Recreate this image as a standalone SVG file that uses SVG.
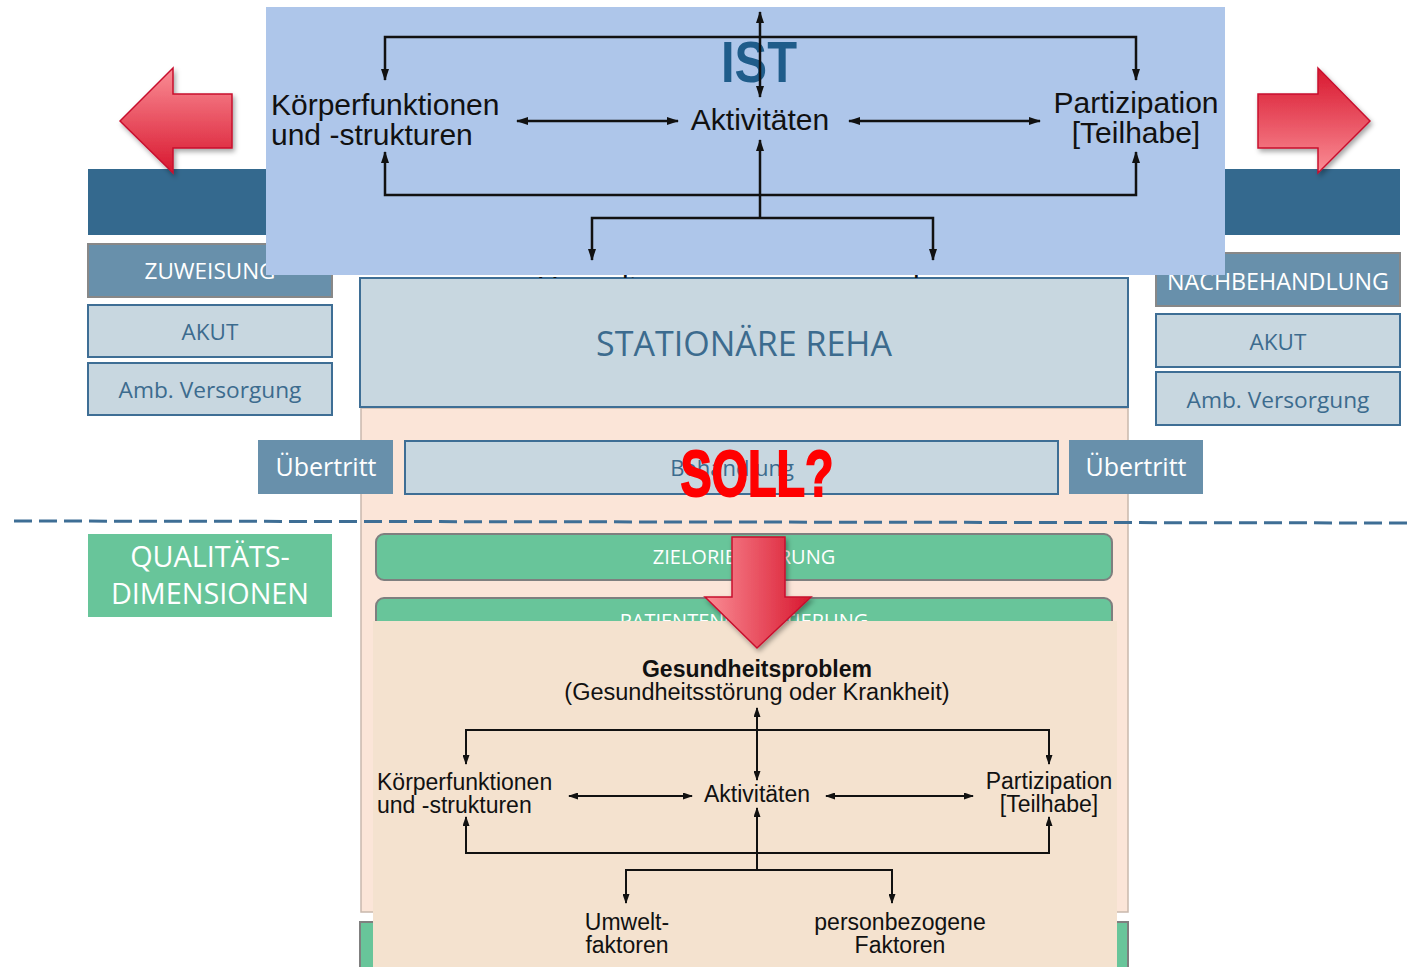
<svg xmlns="http://www.w3.org/2000/svg" width="1407" height="967" viewBox="0 0 1407 967">
<style>
.box{fill:#C8D7E0;stroke:#3E6E95;stroke-width:2}
.dbox{fill:#6890AB;stroke:#888;stroke-width:2}
.bt{font-family:"Open Sans","Noto Sans",sans-serif;fill:#3C6B8E;text-anchor:middle}
.wt{font-family:"Open Sans","Noto Sans",sans-serif;fill:#fff;text-anchor:middle}
.icf{font-family:"Liberation Sans",Arial,sans-serif;fill:#111}
.ln{fill:none;stroke:#111;stroke-width:2.5}
.ln2{fill:none;stroke:#111;stroke-width:2}
.g{fill:#68C59A;stroke:#7F7F7F;stroke-width:2}
.arr{stroke:#C8102E;stroke-width:1.5;filter:url(#sh)}
</style>
<defs>
<marker id="ah" viewBox="0 0 12 8" refX="11" refY="4" markerWidth="12" markerHeight="8" markerUnits="userSpaceOnUse" orient="auto-start-reverse"><path d="M0,0 L12,4 L0,8 z" fill="#111"/></marker>
<marker id="ah2" viewBox="0 0 10 7" refX="9" refY="3.5" markerWidth="10" markerHeight="7" markerUnits="userSpaceOnUse" orient="auto-start-reverse"><path d="M0,0 L10,3.5 L0,7 z" fill="#111"/></marker>
<linearGradient id="gL" x1="0" y1="0" x2="0" y2="1"><stop offset="0" stop-color="#FA8D95"/><stop offset="1" stop-color="#D8172F"/></linearGradient>
<linearGradient id="gR" x1="0" y1="0" x2="0" y2="1"><stop offset="0" stop-color="#D8172F"/><stop offset="1" stop-color="#FA8D95"/></linearGradient>
<linearGradient id="gD" x1="0" y1="0" x2="1" y2="0"><stop offset="0" stop-color="#FA8D95"/><stop offset="1" stop-color="#D8172F"/></linearGradient>
<filter id="sh" x="-20%" y="-20%" width="150%" height="150%"><feDropShadow dx="2" dy="3" stdDeviation="2.5" flood-color="#000" flood-opacity="0.35"/></filter>
<clipPath id="peek"><rect x="266" y="0" width="959" height="278"/></clipPath>
</defs>

<g id="reha-bg">
<rect x="361" y="408" width="767" height="504" fill="#FBE5D8" stroke="#C9B8AD" stroke-width="1.5"/>
<rect x="360" y="922" width="768" height="60" class="g"/>
</g>

<g id="zuweisung">
<rect x="88" y="169" width="190" height="66" fill="#34698E"/>
<rect x="88" y="244" width="244" height="53" class="dbox"/>
<text x="210" y="279" class="wt" font-size="22.5">ZUWEISUNG</text>
<rect x="88" y="305" width="244" height="52" class="box"/>
<text x="210" y="340" class="bt" font-size="22.5">AKUT</text>
<rect x="88" y="363" width="244" height="52" class="box"/>
<text x="210" y="398" class="bt" font-size="22.7">Amb. Versorgung</text>
</g>

<g id="nachbehandlung">
<rect x="1210" y="169" width="190" height="66" fill="#34698E"/>
<rect x="1156" y="253" width="244" height="53" class="dbox"/>
<text x="1278" y="290" class="wt" font-size="23.3">NACHBEHANDLUNG</text>
<rect x="1156" y="314" width="244" height="53" class="box"/>
<text x="1278" y="350" class="bt" font-size="22.5">AKUT</text>
<rect x="1156" y="372" width="244" height="53" class="box"/>
<text x="1278" y="408" class="bt" font-size="22.7">Amb. Versorgung</text>
</g>

<g id="stationaer">
<rect x="360" y="278" width="768" height="129" class="box"/>
<text x="744" y="356" class="bt" font-size="34">STATIONÄRE REHA</text>
</g>

<g id="uebertritt-links">
<rect x="258" y="440" width="135" height="54" fill="#6890AB"/>
<text x="326" y="476" class="wt" font-size="25">Übertritt</text>
</g>
<g id="behandlung">
<rect x="405" y="441" width="653" height="53" class="box"/>
<text x="732" y="476" class="bt" font-size="22">Behandlung</text>
</g>
<g id="uebertritt-rechts">
<rect x="1069" y="440" width="134" height="54" fill="#6890AB"/>
<text x="1136" y="476" class="wt" font-size="25">Übertritt</text>
</g>

<g id="trennlinie">
<line x1="14" y1="521" x2="1407" y2="523" stroke="#3E6E95" stroke-width="3" stroke-dasharray="18 7"/>
</g>

<g id="qualitaet">
<rect x="88" y="534" width="244" height="83" fill="#68C59A"/>
<text x="210" y="567" class="wt" font-size="28.8">QUALITÄTS-</text>
<text x="210" y="604" class="wt" font-size="28.8">DIMENSIONEN</text>
</g>
<g id="zielorientierung">
<rect x="376" y="534" width="736" height="46" rx="8" class="g"/>
<text x="744" y="564" class="wt" font-size="20">ZIELORIENTIERUNG</text>
</g>
<g id="patientenorientierung">
<rect x="376" y="598" width="736" height="46" rx="8" class="g"/>
<text x="744" y="628" class="wt" font-size="20">PATIENTENORIENTIERUNG</text>
</g>

<g id="ist">
<g clip-path="url(#peek)">
<text x="592" y="297" class="icf" font-size="30" text-anchor="middle">Umwelt-</text>
<text x="933" y="297" class="icf" font-size="30" text-anchor="middle">personbezogene</text>
</g>
<rect x="266" y="7" width="959" height="268" fill="#AEC6EA"/>
<text x="759" y="82" font-family="'Liberation Sans',Arial,sans-serif" font-weight="bold" font-size="58" fill="#1F5C8A" text-anchor="middle" textLength="76" lengthAdjust="spacingAndGlyphs">IST</text>
<text x="271" y="115" class="icf" font-size="30">Körperfunktionen</text>
<text x="271" y="145" class="icf" font-size="30">und -strukturen</text>
<text x="760" y="130" class="icf" font-size="30" text-anchor="middle">Aktivitäten</text>
<text x="1136" y="113" class="icf" font-size="30" text-anchor="middle">Partizipation</text>
<text x="1136" y="143" class="icf" font-size="30" text-anchor="middle">[Teilhabe]</text>
</g>

<g id="soll-icf">
<rect x="373" y="621" width="744" height="350" fill="#F4E2CF"/>
<text x="757" y="677" class="icf" font-size="23" font-weight="bold" text-anchor="middle">Gesundheitsproblem</text>
<text x="757" y="700" class="icf" font-size="23.5" text-anchor="middle">(Gesundheitsstörung oder Krankheit)</text>
<text x="377" y="790" class="icf" font-size="23">Körperfunktionen</text>
<text x="377" y="813" class="icf" font-size="23">und -strukturen</text>
<text x="757" y="802" class="icf" font-size="23" text-anchor="middle">Aktivitäten</text>
<text x="1049" y="789" class="icf" font-size="23" text-anchor="middle">Partizipation</text>
<text x="1049" y="812" class="icf" font-size="23" text-anchor="middle">[Teilhabe]</text>
<text x="627" y="930" class="icf" font-size="23" text-anchor="middle">Umwelt-</text>
<text x="627" y="953" class="icf" font-size="23" text-anchor="middle">faktoren</text>
<text x="900" y="930" class="icf" font-size="23" text-anchor="middle">personbezogene</text>
<text x="900" y="953" class="icf" font-size="23" text-anchor="middle">Faktoren</text>
</g>

<g id="connectors">
<path class="ln" d="M760,97 L760,12" marker-start="url(#ah)" marker-end="url(#ah)"/>
<path class="ln" d="M385,80 L385,37 L1136,37 L1136,80" marker-start="url(#ah)" marker-end="url(#ah)"/>
<path class="ln" d="M385,152 L385,195 L1136,195 L1136,152" marker-start="url(#ah)" marker-end="url(#ah)"/>
<path class="ln" d="M760,218 L760,140" marker-end="url(#ah)"/>
<path class="ln" d="M592,260 L592,218 L933,218 L933,260" marker-start="url(#ah)" marker-end="url(#ah)"/>
<path class="ln" d="M517,121 L678,121" marker-start="url(#ah)" marker-end="url(#ah)"/>
<path class="ln" d="M849,121 L1040,121" marker-start="url(#ah)" marker-end="url(#ah)"/>

<path class="ln2" d="M757,780 L757,708" marker-start="url(#ah2)" marker-end="url(#ah2)"/>
<path class="ln2" d="M466,764 L466,730 L1049,730 L1049,764" marker-start="url(#ah2)" marker-end="url(#ah2)"/>
<path class="ln2" d="M569,796 L692,796" marker-start="url(#ah2)" marker-end="url(#ah2)"/>
<path class="ln2" d="M826,796 L973,796" marker-start="url(#ah2)" marker-end="url(#ah2)"/>
<path class="ln2" d="M466,817 L466,853 L1049,853 L1049,817" marker-start="url(#ah2)" marker-end="url(#ah2)"/>
<path class="ln2" d="M757,870 L757,808" marker-end="url(#ah2)"/>
<path class="ln2" d="M626,903 L626,870 L892,870 L892,903" marker-start="url(#ah2)" marker-end="url(#ah2)"/>
</g>

<g id="pfeil-links">
<path class="arr" fill="url(#gL)" d="M120,121 L173,68 L173,94 L232,94 L232,148 L173,148 L173,173 Z"/>
</g>
<g id="pfeil-rechts">
<path class="arr" fill="url(#gR)" d="M1370,121 L1318,68 L1318,94 L1258,94 L1258,148 L1318,148 L1318,173 Z"/>
</g>
<g id="pfeil-unten">
<path class="arr" fill="url(#gD)" d="M732,537 L785,537 L785,597 L811,597 L757,648 L705,597 L732,597 Z"/>
</g>

<g id="soll">
<text x="757" y="496" font-family="'Liberation Sans',Arial,sans-serif" font-weight="bold" font-size="64" fill="#FF0000" stroke="#FF0000" stroke-width="2" text-anchor="middle" textLength="153" lengthAdjust="spacingAndGlyphs">SOLL?</text>
</g>
</svg>
